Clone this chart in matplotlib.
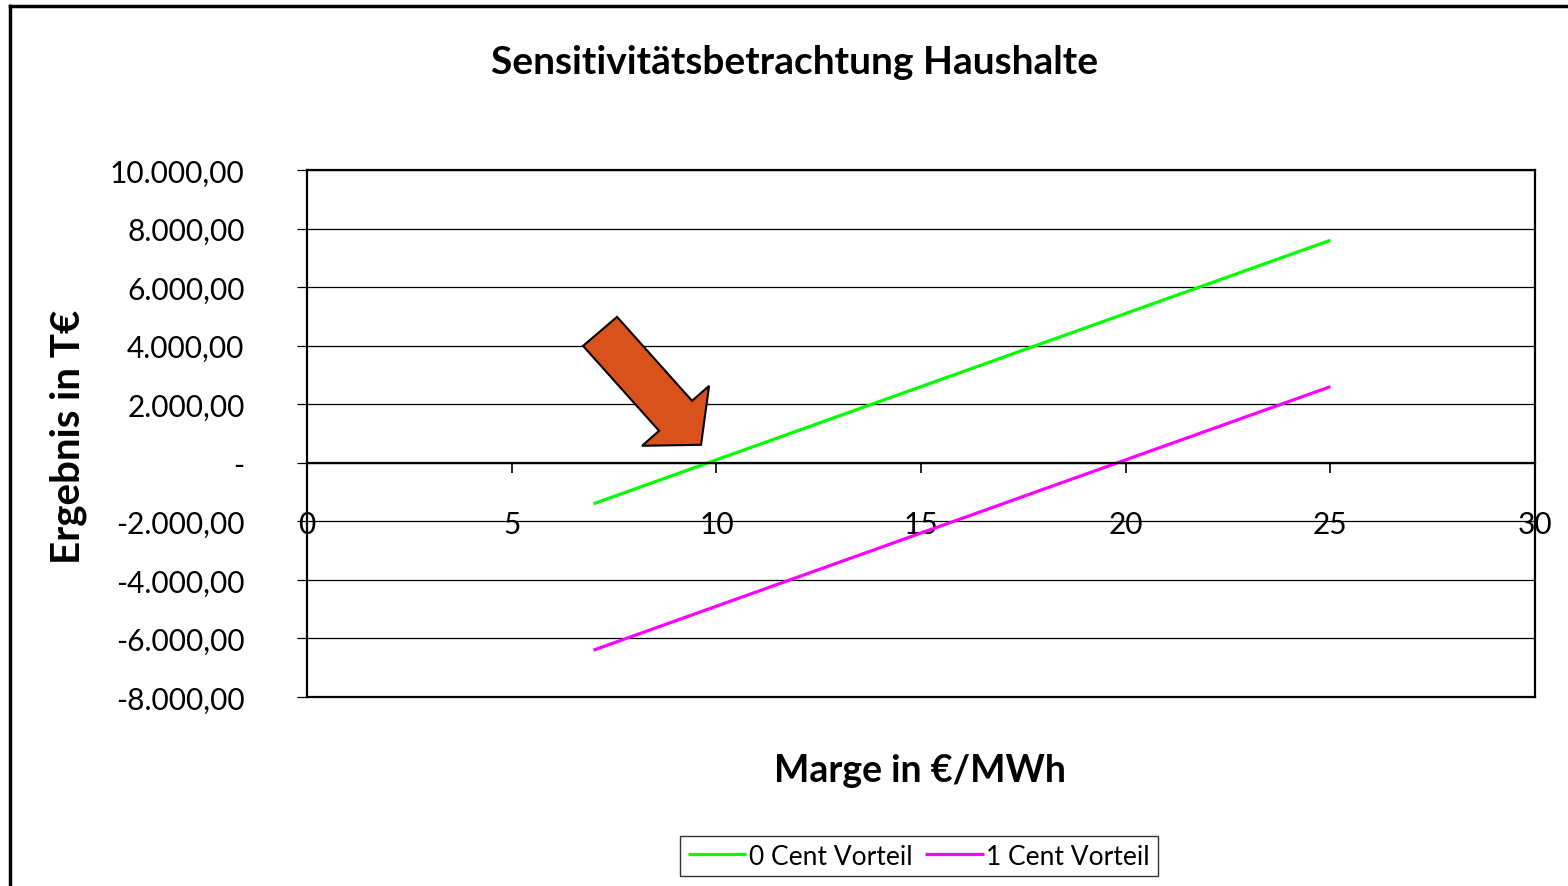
import matplotlib
matplotlib.use("Agg")
import matplotlib.pyplot as plt
from matplotlib.patches import Polygon
from matplotlib.lines import Line2D
from matplotlib.ticker import FuncFormatter

plt.rcParams['font.family'] = ['Lato', 'DejaVu Sans']

# Data
marge = [7, 10, 15, 20, 25]
cent0 = [-1400, 100, 2600, 5100, 7600]
cent1 = [-6400, -4900, -2400, 100, 2600]
series_labels = ["0 Cent Vorteil", "1 Cent Vorteil"]
xticks = [0, 5, 10, 15, 20, 25, 30]
yticks = [-8000, -6000, -4000, -2000, 0, 2000, 4000, 6000, 8000, 10000]
title = "Sensitivitätsbetrachtung Haushalte"
xlabel = "Marge in €/MWh"
ylabel = "Ergebnis in T€"

# Annotation arrow outline (data coordinates)
arrow_x = [7.574, 9.406, 9.822, 9.626, 8.185, 8.600, 6.743]
arrow_y = [4983, 2116, 2628, 614, 580, 1092, 3993]

fig = plt.figure(figsize=(15.68, 8.87), dpi=100)
ax = fig.add_axes([0.1958, 0.2131, 0.979 - 0.1958, 0.8072 - 0.2131])

ax.plot(marge, cent0, color="#00FF00", lw=2.3, label=series_labels[0], solid_capstyle='butt')
ax.plot(marge, cent1, color="#FF00FF", lw=2.3, label=series_labels[1], solid_capstyle='butt')

ax.set_xlim(0, 30)
ax.set_ylim(-8000, 10000)
ax.set_xticks(xticks)
ax.set_yticks(yticks)

def fmt(v, pos):
    if v == 0:
        return "-"
    s = f"{abs(v):,.2f}".replace(",", "X").replace(".", ",").replace("X", ".")
    return ("-" if v < 0 else "") + s

ax.yaxis.set_major_formatter(FuncFormatter(fmt))
ax.yaxis.grid(True, color="black", lw=0.9)
ax.set_axisbelow(True)

for s in ["left", "right", "top"]:
    ax.spines[s].set_color("black")
    ax.spines[s].set_linewidth(1.6)
ax.spines["bottom"].set_position(("data", 0))
ax.spines["bottom"].set_linewidth(1.6)
ax.axhline(-8000, color="black", lw=1.6, clip_on=False)

ax.tick_params(axis="y", direction="out", length=7, width=0.9, labelsize=21.5, pad=38,
               colors="black")
for lab in ax.get_yticklabels():
    lab.set_horizontalalignment("right")
ax.tick_params(axis="x", direction="out", length=7, width=1.2, labelsize=21.5, pad=27,
               colors="black")

ax.add_patch(Polygon(list(zip(arrow_x, arrow_y)), closed=True, facecolor="#DA521B",
                     edgecolor="black", lw=1.5, zorder=5))

fig.text(0.507, 0.929, title, ha="center", va="center", fontsize=28, fontweight="bold")
fig.text(0.587, 0.131, xlabel, ha="center", va="center", fontsize=27, fontweight="bold")
fig.text(0.0434, 0.507, ylabel, ha="center", va="center", fontsize=29, fontweight="bold",
         rotation=90)

leg = fig.legend(loc="center", bbox_to_anchor=(0.586, 0.0338), ncol=2, fontsize=19,
                 frameon=True, fancybox=False, handlelength=2.2, handletextpad=0.1,
                 columnspacing=0.5, borderpad=0.3, borderaxespad=0)
leg.get_frame().set_edgecolor("black")
leg.get_frame().set_linewidth(1.0)

# Figure border (left and top)
fig.add_artist(Line2D([0.0064, 0.0064], [0.0, 0.992], color="black", lw=2.5,
                      transform=fig.transFigure))
fig.add_artist(Line2D([0.0064, 1.0], [0.992, 0.992], color="black", lw=2.5,
                      transform=fig.transFigure))

fig.savefig("out.png", dpi=100, facecolor="white")
